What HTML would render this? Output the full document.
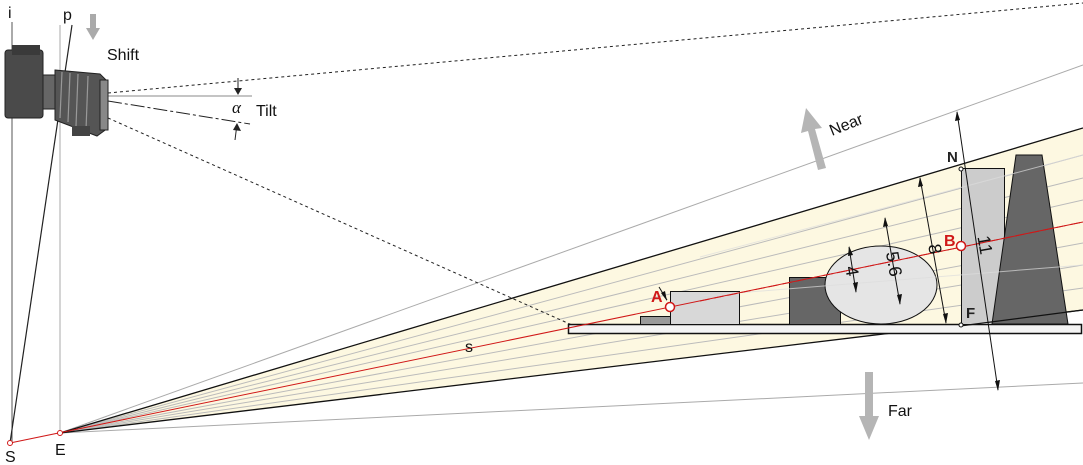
<!DOCTYPE html>
<html><head><style>
html,body{margin:0;padding:0;background:#fff;}
svg{display:block;font-family:"Liberation Sans",sans-serif;}
</style></head><body>
<svg width="1083" height="465" viewBox="0 0 1083 465">
<polygon points="60,433 1083,128 1083,310" fill="#fdf8e1"/>
<line x1="60" y1="433" x2="1083" y2="65" stroke="#aaa" stroke-width="1"/>
<line x1="60" y1="433" x2="1083" y2="383" stroke="#aaa" stroke-width="1"/>
<g stroke="#bbb" stroke-width="1">
<line x1="60" y1="433" x2="1083" y2="155"/>
<line x1="60" y1="433" x2="1083" y2="178"/>
<line x1="60" y1="433" x2="1083" y2="200"/>
<line x1="60" y1="433" x2="1083" y2="243"/>
<line x1="60" y1="433" x2="1083" y2="265"/>
<line x1="60" y1="433" x2="1083" y2="288"/>
</g>
<line x1="60" y1="433" x2="1083" y2="128" stroke="#111" stroke-width="1.3"/>
<line x1="60" y1="433" x2="1083" y2="310" stroke="#111" stroke-width="1.3"/>
<line x1="12" y1="22" x2="12" y2="443" stroke="#555" stroke-width="1"/>
<line x1="60" y1="25" x2="60" y2="433" stroke="#aaa" stroke-width="1"/>
<line x1="72" y1="25" x2="10" y2="443" stroke="#222" stroke-width="1.2"/>
<line x1="108" y1="93" x2="1083" y2="3" stroke="#222" stroke-width="1" stroke-dasharray="3,3"/>
<line x1="108" y1="118" x2="572" y2="325" stroke="#222" stroke-width="1" stroke-dasharray="3,3"/>
<line x1="108" y1="96" x2="252" y2="96" stroke="#888" stroke-width="1"/>
<line x1="108" y1="101" x2="250" y2="124" stroke="#222" stroke-width="1" stroke-dasharray="14,3,3,3"/>
<line x1="238" y1="78" x2="238" y2="94" stroke="#222"/><polygon points="234,88 242,88 238,95" fill="#222"/>
<line x1="235" y1="140" x2="237" y2="124" stroke="#222"/><polygon points="233,130 241,131 237,123" fill="#222"/>
<text x="232" y="113" font-family="Liberation Serif,serif" font-style="italic" font-size="17" fill="#111">α</text>
<text x="256" y="116" font-size="16" fill="#111">Tilt</text>
<polygon points="90,14 96,14 96,28 100,28 93,40 86,28 90,28" fill="#aaa"/>
<text x="107" y="60" font-size="16" fill="#111">Shift</text>
<rect x="5" y="50" width="38" height="68" rx="3" fill="#4a4a4a" stroke="#222"/>
<rect x="12" y="45" width="28" height="10" fill="#3a3a3a"/>
<rect x="43" y="75" width="12" height="34" fill="#666" stroke="#222"/>
<polygon points="55,70 100,74 108,82 108,128 97,136 55,120" fill="#555" stroke="#222"/>
<g stroke="#999" stroke-width="1.2" fill="none">
<path d="M62,72 L60,118"/><path d="M70,73 L68,122"/><path d="M78,74 L76,126"/><path d="M88,76 L86,130"/>
</g>
<rect x="100" y="80" width="8" height="50" fill="#888" stroke="#222"/>
<rect x="72" y="126" width="18" height="10" fill="#444"/>
<rect x="568.5" y="324.5" width="513" height="9" fill="#f4f4f4" stroke="#111" stroke-width="1.5"/>
<rect x="640.5" y="316.5" width="30" height="8" fill="#999" stroke="#111"/>
<rect x="670.5" y="291.5" width="69" height="33" fill="#d8d8d8" stroke="#111"/>
<rect x="789.5" y="277.5" width="51" height="47" fill="#666" stroke="#111"/>
<ellipse cx="881" cy="285" rx="56" ry="39" fill="#e5e5e5" stroke="#111"/>
<rect x="961.5" y="168.5" width="43" height="156" fill="#ccc" stroke="#111"/>
<polygon points="1016,155 1042,155 1068,324 992,324" fill="#666" stroke="#111"/>
<g stroke="#ddd" stroke-width="1" opacity="0.7">
<line x1="700" y1="257" x2="1083" y2="155"/>
<line x1="700" y1="296" x2="1083" y2="265"/>
</g>
<line x1="960" y1="326" x2="1083" y2="310" stroke="#111" stroke-width="1.2"/>
<line x1="10" y1="443" x2="1083" y2="222" stroke="#d01818" stroke-width="1"/>
<line x1="700" y1="301" x2="1083" y2="222" stroke="#d01818" stroke-width="1" stroke-dasharray="10,4"/>
<circle cx="10" cy="443" r="2.5" fill="#fff" stroke="#d01818"/>
<circle cx="60" cy="433" r="2.5" fill="#fff" stroke="#d01818"/>
<circle cx="670" cy="307" r="4.5" fill="#fff" stroke="#d01818" stroke-width="1.5"/>
<circle cx="961" cy="246" r="4.5" fill="#fff" stroke="#d01818" stroke-width="1.5"/>
<circle cx="961" cy="169" r="2" fill="#fff" stroke="#111"/>
<circle cx="961" cy="325" r="2" fill="#fff" stroke="#111"/>
<g stroke="#111" stroke-width="1" fill="#111">
<line x1="659" y1="287" x2="667" y2="300"/>
<line x1="920" y1="178" x2="946" y2="323"/>
<line x1="957" y1="112" x2="998" y2="390"/>
<line x1="885" y1="218" x2="900" y2="304"/>
<line x1="849" y1="247" x2="856" y2="292"/>
</g>
<g fill="#111">
<polygon points="667,301 661,293 665,291"/>
<polygon points="920,177 918,187 923,186"/><polygon points="946,324 943,314 948,313"/>
<polygon points="957,111 955,121 960,120"/><polygon points="998,391 995,381 1000,380"/>
<polygon points="885,217 883,227 888,226"/><polygon points="900,305 897,295 902,294"/>
<polygon points="849,246 848,256 853,255"/><polygon points="856,293 853,283 858,282"/>
</g>
<g font-size="18" fill="#111">
<text transform="translate(929,250) rotate(80)" text-anchor="middle">8</text>
<text transform="translate(979,246) rotate(80)" text-anchor="middle">11</text>
<text transform="translate(888,265) rotate(80)" text-anchor="middle">5.6</text>
<text transform="translate(846,272) rotate(80)" text-anchor="middle">4</text>
</g>
<polygon points="806,108 822,128 815,129 826,168 818,170 808,131 801,133" fill="#b5b5b5"/>
<polygon points="865,372 873,372 873,416 879,416 869,440 859,416 865,416" fill="#b5b5b5"/>
<text transform="translate(832,136) rotate(-22)" font-size="16" fill="#111">Near</text>
<text x="888" y="416" font-size="16" fill="#111">Far</text>
<g font-size="16" fill="#111">
<text x="8" y="18">i</text>
<text x="63" y="20">p</text>
<text x="5" y="462">S</text>
<text x="55" y="455">E</text>
<text x="465" y="352">s</text>
</g>
<text x="947" y="162" font-size="15" font-weight="bold" fill="#222">N</text>
<text x="966" y="318" font-size="15" font-weight="bold" fill="#222">F</text>
<text x="651" y="302" font-size="16" font-weight="bold" fill="#d01818">A</text>
<text x="944" y="246" font-size="16" font-weight="bold" fill="#d01818">B</text>
</svg>
</body></html>
